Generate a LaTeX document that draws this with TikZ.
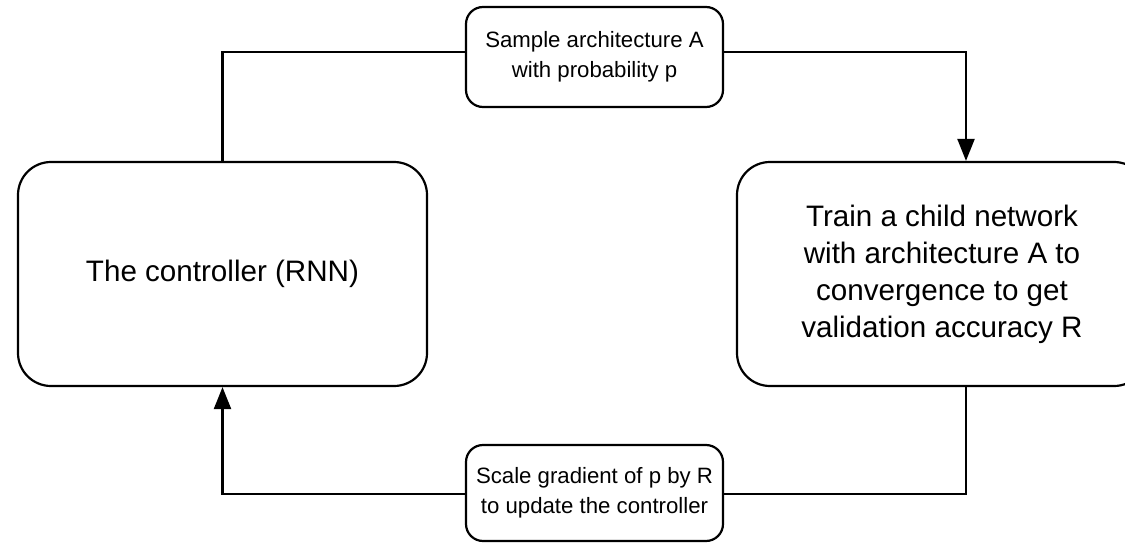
\documentclass[tikz,border=0pt]{standalone}
\usepackage{fontspec}
\setmainfont{Liberation Sans}
\usetikzlibrary{arrows.meta}
\begin{document}
\begin{tikzpicture}[x=1pt,y=1pt,
  bigbox/.style={draw=black,line width=2.2pt,rounded corners=33pt,inner sep=0pt,
    align=center,font=\fontsize{29.6}{37}\selectfont},
  labelbox/.style={draw=black,line width=2.2pt,rounded corners=17pt,inner sep=0pt,
    align=center,minimum width=257pt,font=\fontsize{22.2}{30}\selectfont},
  conn/.style={draw=black,line width=2.2pt},
  tip/.style={-{Triangle[length=22pt,width=17pt]}}]
\useasboundingbox (0,0) rectangle (1125,-543);
\clip (0,0) rectangle (1125,-543);
\node[bigbox,minimum width=409pt,minimum height=224pt] (L) at (222.5,-274) {The controller (RNN)};
\node[bigbox,minimum width=410pt,minimum height=224pt] (R) at (942,-274)
  {Train a child network\\with architecture A to\\convergence to get\\validation accuracy R};
\node[labelbox,minimum height=100pt] (T) at (594.5,-57) {Sample architecture A\\with probability p};
\node[labelbox,minimum height=96pt] (B) at (594.5,-493) {Scale gradient of p by R\\to update the controller};
\draw[conn] (L.north) |- ([yshift=5pt]T.west);
\draw[conn,tip] ([yshift=5pt]T.east) -| ([xshift=24pt]R.north);
\draw[conn] ([xshift=24pt]R.south) |- ([yshift=-1pt]B.east);
\draw[conn,tip] ([yshift=-1pt]B.west) -| (L.south);
\end{tikzpicture}
\end{document}
